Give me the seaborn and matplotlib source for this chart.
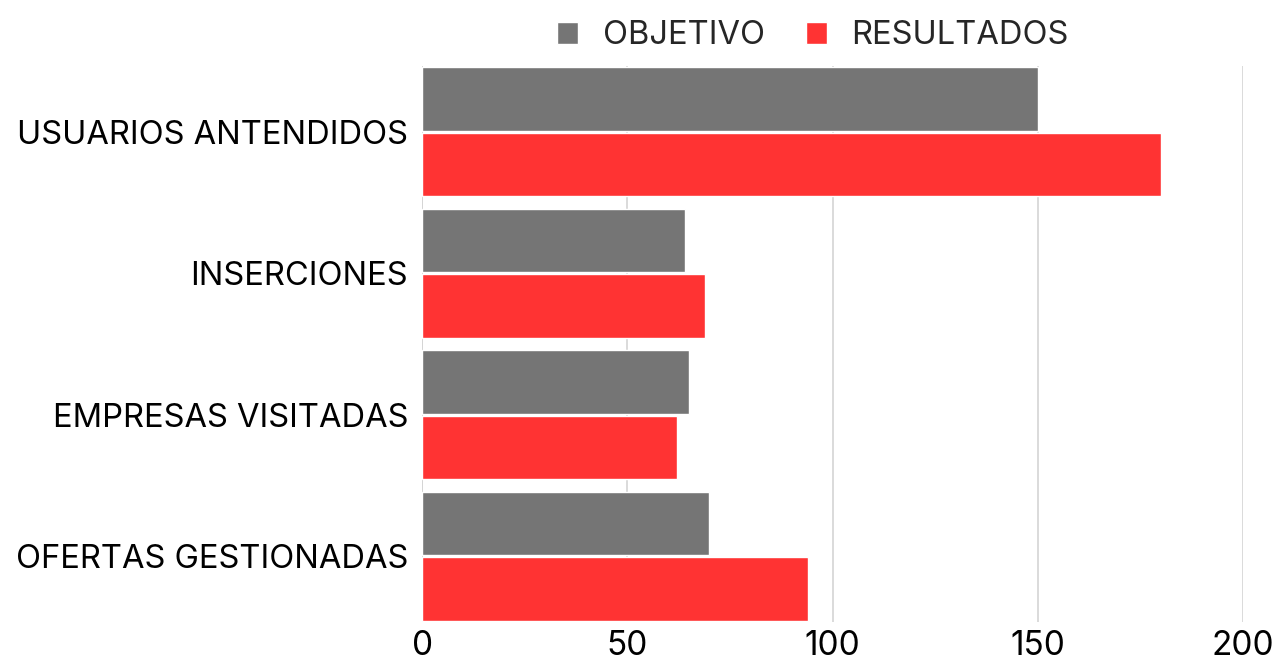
import pandas as pd
import matplotlib.pyplot as plt
import seaborn as sns

categories = ['USUARIOS ANTENDIDOS', 'INSERCIONES', 'EMPRESAS VISITADAS', 'OFERTAS GESTIONADAS']
objetivo = [150, 64, 65, 70]
resultados = [180, 69, 62, 94]
series = ['OBJETIVO', 'RESULTADOS']
x_ticks = [0, 50, 100, 150, 200]

sns.set_theme(style="white")
plt.rcParams['font.family'] = ['Inter', 'DejaVu Sans']

df = pd.DataFrame({
    'Categoria': categories * 2,
    'Serie': [series[0]] * len(categories) + [series[1]] * len(categories),
    'Valor': objetivo + resultados,
})

fig = plt.figure(figsize=(12.79, 6.63), dpi=100)
ax = fig.add_axes([0.33, 0.0618, 0.6419, 0.8387])

sns.barplot(data=df, y='Categoria', x='Valor', hue='Serie', orient='h',
            palette={'OBJETIVO': '#757575', 'RESULTADOS': '#ff3333'},
            width=0.93, gap=0.035, saturation=1, ax=ax, zorder=3)

ax.set_xlim(0, 200)
ax.set_ylim(3.465, -0.465)
ax.set_xticks(x_ticks)
ax.xaxis.grid(True, color='#d4d4d4', linewidth=1.2, zorder=0)
ax.set_axisbelow(True)
for s in ax.spines.values():
    s.set_visible(False)
ax.axvline(0, color='#d4d4d4', linewidth=1.2, zorder=0)
ax.tick_params(axis='y', length=0, labelsize=23.5, colors='black', pad=10)
ax.tick_params(axis='x', length=0, labelsize=24, colors='black', pad=6)
ax.set_xlabel('')
ax.set_ylabel('')

ax.legend(loc='lower center', bbox_to_anchor=(0.476, 0.985), ncol=2, frameon=False,
          fontsize=23.5, handlelength=0.65, handleheight=0.65, handletextpad=0.75,
          columnspacing=1.25, borderaxespad=0.3)

fig.savefig('out.png', dpi=100)
